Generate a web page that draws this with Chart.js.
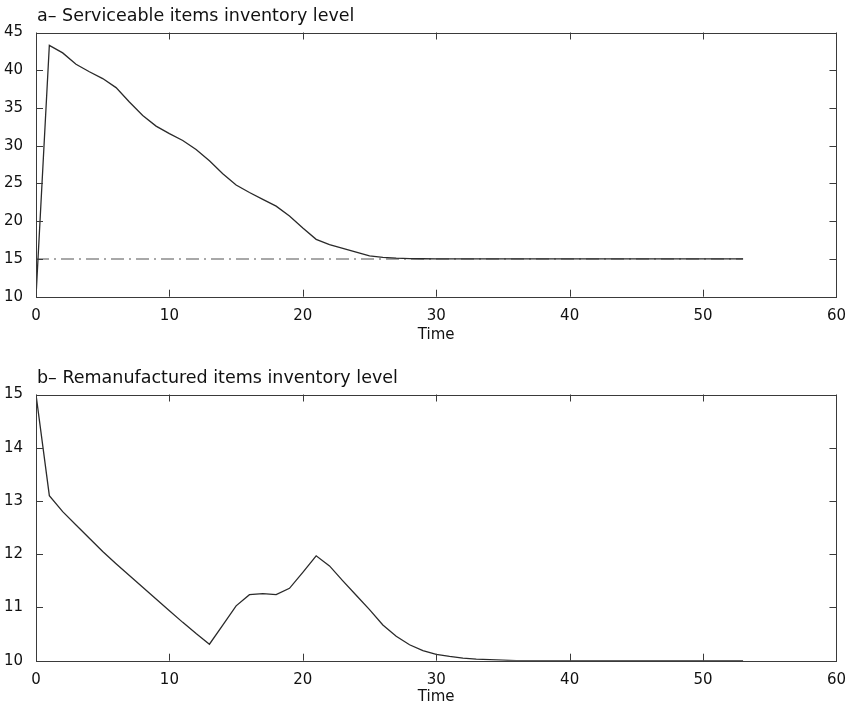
<!DOCTYPE html>
<html>
<head>
<meta charset="utf-8">
<script src="https://cdn.jsdelivr.net/npm/chart.js@4.4.1/dist/chart.umd.min.js"></script>
<style>
  html, body { margin: 0; padding: 0; background: #fff; }
  body { width: 848px; height: 710px; position: relative; overflow: hidden; }
  .box { position: absolute; left: 0; width: 848px; height: 348px; }
  #boxA { top: 0; }
  #boxB { top: 362px; }
</style>
</head>
<body>
<div class="box" id="boxA"><canvas id="chartA" width="848" height="348"></canvas></div>
<div class="box" id="boxB"><canvas id="chartB" width="848" height="348"></canvas></div>
<script>
// ---- data ----
const timeSteps = [0,1,2,3,4,5,6,7,8,9,10,11,12,13,14,15,16,17,18,19,20,21,22,23,24,25,26,27,28,29,30,31,32,33,34,35,36,37,38,39,40,41,42,43,44,45,46,47,48,49,50,51,52,53];
const serviceable = [10,43.3,42.3,40.8,39.8,38.9,37.7,35.8,34.0,32.6,31.6,30.7,29.5,28.0,26.3,24.8,23.8,22.9,22.0,20.7,19.1,17.6,16.9,16.4,15.9,15.4,15.2,15.1,15.05,15.03,15.02,15.01,15,15,15,15,15,15,15,15,15,15,15,15,15,15,15,15,15,15,15,15,15,15];
const targetTime = [0,53];
const targetLevel = [15,15];
const remanufactured = [15,13.1,12.8,12.55,12.3,12.05,11.82,11.6,11.38,11.16,10.94,10.72,10.51,10.31,10.67,11.03,11.24,11.26,11.24,11.36,11.66,11.97,11.78,11.5,11.23,10.96,10.67,10.46,10.3,10.19,10.12,10.08,10.05,10.03,10.02,10.01,10,10,10,10,10,10,10,10,10,10,10,10,10,10,10,10,10,10];
const xTicks = [0,10,20,30,40,50,60];
const yTicksA = [10,15,20,25,30,35,40,45];
const yTicksB = [10,11,12,13,14,15];
const titleA = 'a\u2013 Serviceable items inventory level';
const titleB = 'b\u2013 Remanufactured items inventory level';
const xTitle = 'Time';

const FONT = 'DejaVu Sans';
const TXT = '#111';

function pts(xs, ys) { return xs.map((x, i) => ({ x: x, y: ys[i] })); }

const frameTicks = {
  id: 'frameTicks',
  afterLayout(chart) {
    if (chart.titleBlock) chart.titleBlock.left = chart.chartArea.left + 1;
  },
  afterDatasetsDraw(chart) {
    const { ctx, chartArea: a, scales: { x, y } } = chart;
    const L = 7;
    const r = v => Math.round(v) + 0.5;
    ctx.save();
    ctx.strokeStyle = '#3a3a3a';
    ctx.lineWidth = 1;
    ctx.beginPath();
    x.ticks.forEach(t => {
      const px = r(x.getPixelForValue(t.value));
      ctx.moveTo(px, a.bottom); ctx.lineTo(px, a.bottom - L);
      ctx.moveTo(px, a.top); ctx.lineTo(px, a.top + L);
    });
    y.ticks.forEach(t => {
      const py = r(y.getPixelForValue(t.value));
      ctx.moveTo(a.left, py); ctx.lineTo(a.left + L, py);
      ctx.moveTo(a.right, py); ctx.lineTo(a.right - L, py);
    });
    ctx.stroke();
    ctx.strokeRect(r(a.left), r(a.top), Math.round(a.right - a.left), Math.round(a.bottom - a.top));
    ctx.restore();
  }
};

function makeOptions(title, yMin, yMax, yTickVals, xAxisHeight) {
  return {
    responsive: false,
    animation: false,
    layout: { padding: { left: 0, right: 8, top: 0, bottom: 0 } },
    plugins: {
      legend: { display: false },
      tooltip: { enabled: false },
      title: {
        display: true,
        text: title,
        align: 'start',
        color: TXT,
        font: { family: FONT, size: 17.5, weight: 'normal', lineHeight: 1.2 },
        padding: { top: 6, bottom: 5.5 }
      }
    },
    scales: {
      x: {
        type: 'linear',
        min: 0, max: 60,
        afterBuildTicks: s => { s.ticks = xTicks.map(v => ({ value: v })); },
        afterFit: s => { s.height = xAxisHeight; },
        grid: { display: false },
        border: { display: false },
        ticks: { color: TXT, font: { family: FONT, size: 15 }, padding: 2, maxRotation: 0 },
        title: { display: true, text: xTitle, color: TXT, font: { family: FONT, size: 15 }, padding: { top: 0, bottom: 4 } }
      },
      y: {
        type: 'linear',
        min: yMin, max: yMax,
        afterBuildTicks: s => { s.ticks = yTickVals.map(v => ({ value: v })); },
        afterFit: s => { s.width = 36; },
        grid: { display: false },
        border: { display: false },
        ticks: { color: TXT, font: { family: FONT, size: 15 }, padding: 5 }
      }
    }
  };
}

new Chart(document.getElementById('chartA'), {
  type: 'line',
  data: {
    datasets: [
      { data: pts(timeSteps, serviceable), borderColor: '#2a2a2a', borderWidth: 1.3, pointRadius: 0, tension: 0, fill: false },
      { data: pts(targetTime, targetLevel), borderColor: '#8c8c8c', borderWidth: 1.5, borderDash: [13, 5, 2, 5], pointRadius: 0, tension: 0, fill: false }
    ]
  },
  options: makeOptions(titleA, 10, 45, yTicksA, 51.3),
  plugins: [frameTicks]
});

new Chart(document.getElementById('chartB'), {
  type: 'line',
  data: {
    datasets: [
      { data: pts(timeSteps, remanufactured), borderColor: '#2a2a2a', borderWidth: 1.3, pointRadius: 0, tension: 0, fill: false }
    ]
  },
  options: makeOptions(titleB, 10, 15, yTicksB, 49.3),
  plugins: [frameTicks]
});
</script>
</body>
</html>
